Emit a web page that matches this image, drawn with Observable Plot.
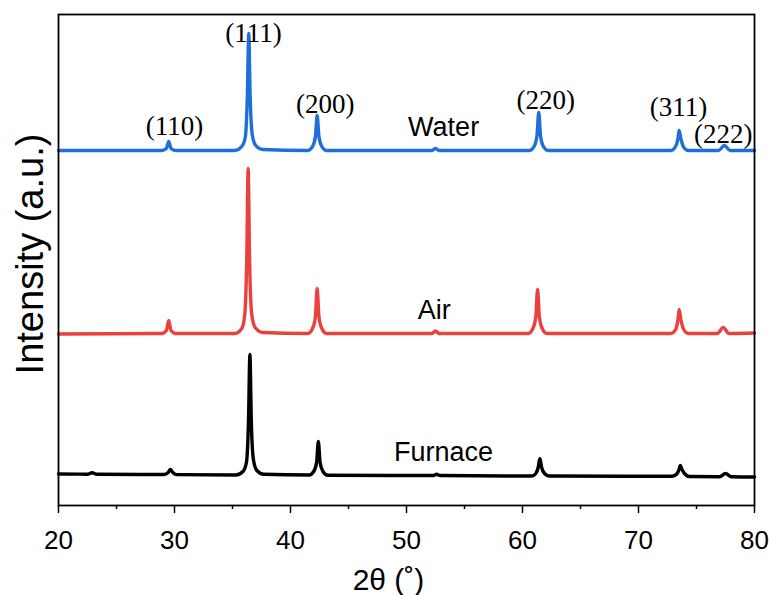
<!DOCTYPE html>
<html>
<head>
<meta charset="utf-8">
<script src="https://cdn.jsdelivr.net/npm/d3@7"></script>
<script src="https://cdn.jsdelivr.net/npm/@observablehq/plot@0.6"></script>
<style>
  html, body { margin: 0; padding: 0; background: #fff; }
  svg { display: block; }
</style>
</head>
<body>
<div id="chart"></div>
<script>
// Sample names, colours and vertical offsets (baselines) of the stacked patterns
const series = ["Furnace", "Air", "Water"];
const seriesColors = ["#000000", "#e8413e", "#1f6fd8"];
const offsets = [30, 172, 355];

// [2θ, relative intensity above the baseline]
const furnace = [
  [20,1.5],[22.5,1.3],[22.9,2.8],[23.3,1.3],
  [29.1,1],[29.45,3],[29.65,6],[29.85,3],[30.2,0.9],
  [35.3,0.5],[35.9,4],[36.2,13],[36.38,55],[36.5,121],[36.62,55],[36.8,16],[37.1,5],[37.7,1.2],
  [41.6,0.5],[42.0,4],[42.25,13],[42.4,34],[42.55,13],[42.8,4],[43.2,0.3],
  [52.3,0],[52.6,1.2],[52.9,0],
  [60.8,-0.5],[61.15,2],[61.35,8],[61.5,17],[61.65,8],[61.9,2],[62.3,-0.5],
  [72.9,-0.8],[73.3,1.5],[73.5,6],[73.6,10],[73.75,6],[74.0,1.5],[74.4,-1],
  [77.0,-1.2],[77.5,2],[78.0,-1.2],[80,-1.5]
];
const air = [
  [20,-0.5],
  [28.9,0],[29.3,3],[29.5,13],[29.7,3],[30.1,0],
  [35.2,0],[35.8,5],[36.05,18],[36.23,75],[36.35,165],[36.47,75],[36.65,20],[36.95,6],[37.6,1],
  [41.5,0],[41.9,5],[42.15,17],[42.3,45],[42.45,17],[42.7,5],[43.1,0],
  [52.2,0],[52.5,2.5],[52.8,0],
  [60.5,0],[60.9,5],[61.15,17],[61.3,44],[61.45,17],[61.7,5],[62.1,0],
  [72.8,0],[73.2,4],[73.4,14],[73.5,24],[73.65,14],[73.9,4],[74.3,0],
  [76.8,0],[77.3,6],[77.8,0],[80,0.5]
];
const water = [
  [20,0],
  [28.9,0],[29.3,2],[29.5,9],[29.7,2],[30.1,0],
  [35.2,0],[35.8,4],[36.1,13],[36.28,55],[36.4,117],[36.52,55],[36.7,16],[37.0,5],[37.6,1],
  [41.5,0],[41.9,4],[42.15,14],[42.3,35],[42.45,14],[42.7,4],[43.1,0],
  [52.2,0],[52.5,2],[52.8,0],
  [60.6,0],[61.0,4],[61.25,15],[61.4,38],[61.55,15],[61.8,4],[62.2,0],
  [72.8,0],[73.2,4],[73.4,12],[73.5,20],[73.65,12],[73.9,3],[74.3,0],
  [76.9,0],[77.4,5],[77.9,0],[80,0]
];
const patterns = [furnace, air, water];

// Axis ticks
const majorTicks = [20, 30, 40, 50, 60, 70, 80];
const minorTicks = [25, 35, 45, 55, 65, 75];

// Annotations: Miller indices and sample names
const peakLabels = ["(110)", "(111)", "(200)", "(220)", "(311)", "(222)"];
const peakLabelX = [30.0, 36.8, 43.0, 62.0, 73.45, 77.3];
const peakLabelY = [379, 472, 401, 405, 398, 371];
const sampleLabelX = [53.2, 52.4, 53.2];
const sampleLabelY = [53, 195, 378];

const rows = [];
patterns.forEach((pts, i) => {
  pts.forEach(([x, v]) => rows.push({series: series[i], x, y: offsets[i] + v}));
});
const peakRows = peakLabels.map((t, i) => ({t, x: peakLabelX[i], y: peakLabelY[i]}));
const sampleRows = series.map((t, i) => ({t, x: sampleLabelX[i], y: sampleLabelY[i]}));

const chart = Plot.plot({
  width: 773,
  height: 595,
  marginTop: 14,
  marginLeft: 58,
  marginRight: 19,
  marginBottom: 90,
  style: {fontFamily: "'Liberation Sans', Arial, sans-serif", background: "#fff", color: "#000"},
  x: {domain: [20, 80], axis: null},
  y: {domain: [0, 491], axis: null},
  color: {domain: series, range: seriesColors},
  marks: [
    Plot.line(rows, {x: "x", y: "y", z: "series", stroke: "series", strokeWidth: 3.4, curve: "monotone-x"}),
    Plot.text(peakRows, {x: "x", y: "y", text: "t", fontSize: 27, fontFamily: "'Liberation Serif', 'Times New Roman', serif", fill: "#000"}),
    Plot.text(sampleRows, {x: "x", y: "y", text: "t", fontSize: 27, fill: "#000"}),
    Plot.frame({stroke: "#000", strokeWidth: 1.8}),
    Plot.axisX({ticks: majorTicks, tickSize: 8, tickPadding: 17, fontSize: 26, label: null, stroke: "#000", strokeWidth: 1.5}),
    Plot.axisX({ticks: minorTicks, tickSize: 4, tickFormat: () => "", label: null, stroke: "#000", strokeWidth: 1.5}),
    Plot.text(["2θ (˚)"], {frameAnchor: "bottom", lineAnchor: "middle", textAnchor: "middle", dx: -18, dy: 75, fontSize: 30, fill: "#000"}),
    Plot.text(["Intensity (a.u.)"], {frameAnchor: "left", textAnchor: "middle", lineAnchor: "middle", dx: -28, dy: -6, rotate: -90, fontSize: 38, fill: "#000"})
  ]
});
document.getElementById("chart").appendChild(chart);
</script>
</body>
</html>
